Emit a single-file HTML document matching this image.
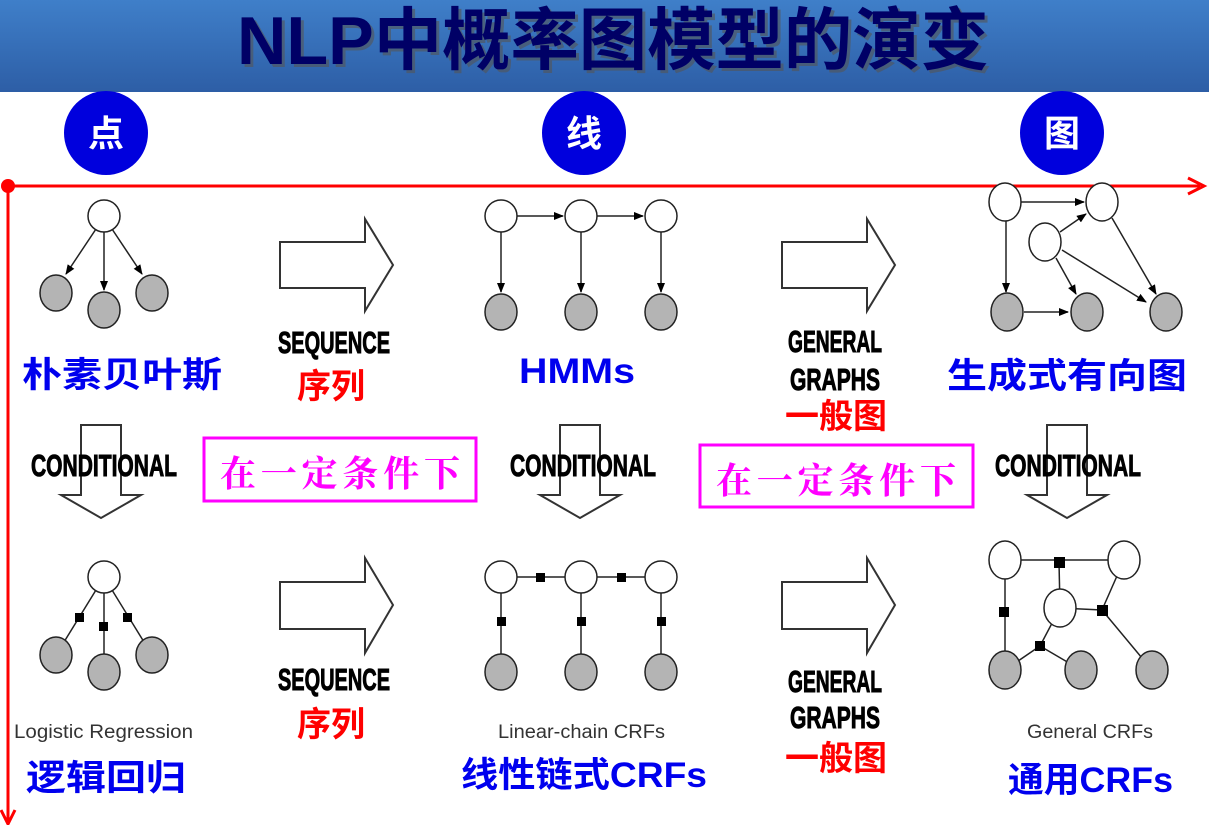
<!DOCTYPE html>
<html><head><meta charset="utf-8"><style>
html,body{margin:0;padding:0;background:#fff;}
svg{display:block;}
.cn{font-family:"Liberation Sans","Noto Sans CJK SC",sans-serif;font-weight:bold;}
.cd{font-family:"Liberation Sans Narrow","Liberation Sans",sans-serif;font-weight:bold;fill:#000;stroke:#000;stroke-width:1;}
.lb{font-family:"Liberation Sans","DejaVu Sans",sans-serif;fill:#333;}
</style></head><body>
<svg width="1209" height="825" viewBox="0 0 1209 825" xmlns="http://www.w3.org/2000/svg">
<defs>
<linearGradient id="hg" x1="0" y1="0" x2="0" y2="1"><stop offset="0" stop-color="#3f7fc9"/><stop offset="1" stop-color="#2d5ea6"/></linearGradient>
<marker id="ah" markerWidth="10" markerHeight="10" refX="9" refY="5" orient="auto" markerUnits="userSpaceOnUse"><path d="M0,1 L10,5 L0,9 z" fill="#000"/></marker>
</defs>
<rect x="0" y="0" width="1209" height="92" fill="url(#hg)"/>
<text x="240" y="67" textLength="752" lengthAdjust="spacingAndGlyphs" class="cn" font-size="68" fill="#555" opacity="0.6">NLP中概率图模型的演变</text>
<text x="237" y="64" textLength="752" lengthAdjust="spacingAndGlyphs" class="cn" font-size="68" fill="#000066">NLP中概率图模型的演变</text>

<ellipse cx="106" cy="133" rx="42" ry="42" fill="#0000dd"/>
<ellipse cx="584" cy="133" rx="42" ry="42" fill="#0000dd"/>
<ellipse cx="1062" cy="133" rx="42" ry="42" fill="#0000dd"/>
<text x="106" y="146" text-anchor="middle" class="cn" font-size="36" fill="#fff">点</text>
<text x="584" y="146" text-anchor="middle" class="cn" font-size="36" fill="#fff">线</text>
<text x="1062" y="146" text-anchor="middle" class="cn" font-size="36" fill="#fff">图</text>

<line x1="8" y1="186" x2="1200" y2="186" stroke="#f00" stroke-width="3"/>
<path d="M1188,178 L1204,186 L1188,194" fill="none" stroke="#f00" stroke-width="3"/>
<line x1="8" y1="186" x2="8" y2="822" stroke="#f00" stroke-width="3"/>
<path d="M1,810 L8,824 L15,810" fill="none" stroke="#f00" stroke-width="3"/>
<circle cx="8" cy="186" r="7" fill="#f00"/>

<g stroke="#222" stroke-width="1.5">
<line x1="96" y1="229" x2="66" y2="274" marker-end="url(#ah)"/>
<line x1="104" y1="232" x2="104" y2="290" marker-end="url(#ah)"/>
<line x1="112" y1="229" x2="142" y2="274" marker-end="url(#ah)"/>
<circle cx="104" cy="216" r="16" fill="#fff"/>
<ellipse cx="56" cy="293" rx="16" ry="18" fill="#b4b4b4"/>
<ellipse cx="104" cy="310" rx="16" ry="18" fill="#b4b4b4"/>
<ellipse cx="152" cy="293" rx="16" ry="18" fill="#b4b4b4"/>
<line x1="517" y1="216" x2="563" y2="216" marker-end="url(#ah)"/>
<line x1="597" y1="216" x2="643" y2="216" marker-end="url(#ah)"/>
<line x1="501" y1="232" x2="501" y2="292" marker-end="url(#ah)"/>
<line x1="581" y1="232" x2="581" y2="292" marker-end="url(#ah)"/>
<line x1="661" y1="232" x2="661" y2="292" marker-end="url(#ah)"/>
<circle cx="501" cy="216" r="16" fill="#fff"/><circle cx="581" cy="216" r="16" fill="#fff"/><circle cx="661" cy="216" r="16" fill="#fff"/>
<ellipse cx="501" cy="312" rx="16" ry="18" fill="#b4b4b4"/><ellipse cx="581" cy="312" rx="16" ry="18" fill="#b4b4b4"/><ellipse cx="661" cy="312" rx="16" ry="18" fill="#b4b4b4"/>
<line x1="1021" y1="202" x2="1084" y2="202" marker-end="url(#ah)"/>
<line x1="1006" y1="220" x2="1006" y2="292" marker-end="url(#ah)"/>
<line x1="1060" y1="232" x2="1086" y2="214" marker-end="url(#ah)"/>
<line x1="1056" y1="258" x2="1076" y2="294" marker-end="url(#ah)"/>
<line x1="1062" y1="250" x2="1146" y2="302" marker-end="url(#ah)"/>
<line x1="1112" y1="218" x2="1156" y2="294" marker-end="url(#ah)"/>
<line x1="1024" y1="312" x2="1068" y2="312" marker-end="url(#ah)"/>
<ellipse cx="1005" cy="202" rx="16" ry="19" fill="#fff"/>
<ellipse cx="1102" cy="202" rx="16" ry="19" fill="#fff"/>
<ellipse cx="1045" cy="242" rx="16" ry="19" fill="#fff"/>
<ellipse cx="1007" cy="312" rx="16" ry="19" fill="#b4b4b4"/>
<ellipse cx="1087" cy="312" rx="16" ry="19" fill="#b4b4b4"/>
<ellipse cx="1166" cy="312" rx="16" ry="19" fill="#b4b4b4"/>

<line x1="104" y1="577" x2="56" y2="655"/><line x1="104" y1="577" x2="104" y2="672"/><line x1="104" y1="577" x2="152" y2="655"/>
<circle cx="104" cy="577" r="16" fill="#fff"/>
<ellipse cx="56" cy="655" rx="16" ry="18" fill="#b4b4b4"/>
<ellipse cx="104" cy="672" rx="16" ry="18" fill="#b4b4b4"/>
<ellipse cx="152" cy="655" rx="16" ry="18" fill="#b4b4b4"/>
<line x1="501" y1="577" x2="661" y2="577"/>
<line x1="501" y1="577" x2="501" y2="672"/><line x1="581" y1="577" x2="581" y2="672"/><line x1="661" y1="577" x2="661" y2="672"/>
<circle cx="501" cy="577" r="16" fill="#fff"/><circle cx="581" cy="577" r="16" fill="#fff"/><circle cx="661" cy="577" r="16" fill="#fff"/>
<ellipse cx="501" cy="672" rx="16" ry="18" fill="#b4b4b4"/><ellipse cx="581" cy="672" rx="16" ry="18" fill="#b4b4b4"/><ellipse cx="661" cy="672" rx="16" ry="18" fill="#b4b4b4"/>
<line x1="1005" y1="560" x2="1124" y2="560"/>
<line x1="1005" y1="560" x2="1005" y2="670"/>
<line x1="1059" y1="562" x2="1060" y2="608"/>
<line x1="1060" y1="608" x2="1102" y2="610"/>
<line x1="1124" y1="560" x2="1102" y2="610"/>
<line x1="1102" y1="610" x2="1152" y2="670"/>
<line x1="1060" y1="608" x2="1040" y2="646"/>
<line x1="1005" y1="670" x2="1040" y2="646"/>
<line x1="1040" y1="646" x2="1081" y2="670"/>
<ellipse cx="1005" cy="560" rx="16" ry="19" fill="#fff"/>
<ellipse cx="1124" cy="560" rx="16" ry="19" fill="#fff"/>
<ellipse cx="1060" cy="608" rx="16" ry="19" fill="#fff"/>
<ellipse cx="1005" cy="670" rx="16" ry="19" fill="#b4b4b4"/>
<ellipse cx="1081" cy="670" rx="16" ry="19" fill="#b4b4b4"/>
<ellipse cx="1152" cy="670" rx="16" ry="19" fill="#b4b4b4"/>
</g>
<g fill="#000">
<rect x="75" y="613" width="9" height="9"/><rect x="99" y="622" width="9" height="9"/><rect x="123" y="613" width="9" height="9"/>
<rect x="536" y="573" width="9" height="9"/><rect x="617" y="573" width="9" height="9"/>
<rect x="497" y="617" width="9" height="9"/><rect x="577" y="617" width="9" height="9"/><rect x="657" y="617" width="9" height="9"/>
<rect x="1054" y="557" width="11" height="11"/><rect x="999" y="607" width="10" height="10"/><rect x="1097" y="605" width="11" height="11"/><rect x="1035" y="641" width="10" height="10"/>
</g>

<g fill="#fff" stroke="#333" stroke-width="2">
<path d="M280,242 L365,242 L365,219 L393,265 L365,311 L365,288 L280,288 Z"/>
<path d="M782,242 L867,242 L867,219 L895,265 L867,311 L867,288 L782,288 Z"/>
<path d="M280,582 L365,582 L365,558 L393,605 L365,653 L365,629 L280,629 Z"/>
<path d="M782,582 L867,582 L867,558 L895,605 L867,653 L867,629 L782,629 Z"/>
<path d="M81,425 L121,425 L121,495 L141,495 L101,518 L61,495 L81,495 Z"/>
<path d="M560,425 L600,425 L600,495 L620,495 L580,518 L540,495 L560,495 Z"/>
<path d="M1047,425 L1087,425 L1087,495 L1107,495 L1067,518 L1027,495 L1047,495 Z"/>
</g>

<g class="cd" font-size="31">
<text x="278" y="353" textLength="112" lengthAdjust="spacingAndGlyphs">SEQUENCE</text>
<text x="278" y="690" textLength="112" lengthAdjust="spacingAndGlyphs">SEQUENCE</text>
<text x="788" y="352" textLength="94" lengthAdjust="spacingAndGlyphs">GENERAL</text>
<text x="790" y="390" textLength="90" lengthAdjust="spacingAndGlyphs">GRAPHS</text>
<text x="788" y="692" textLength="94" lengthAdjust="spacingAndGlyphs">GENERAL</text>
<text x="790" y="728" textLength="90" lengthAdjust="spacingAndGlyphs">GRAPHS</text>
<text x="31" y="476" textLength="146" lengthAdjust="spacingAndGlyphs">CONDITIONAL</text>
<text x="510" y="476" textLength="146" lengthAdjust="spacingAndGlyphs">CONDITIONAL</text>
<text x="995" y="476" textLength="146" lengthAdjust="spacingAndGlyphs">CONDITIONAL</text>
</g>

<g class="cn" font-size="34" fill="#f00" text-anchor="middle">
<text x="331" y="398">序列</text>
<text x="331" y="736">序列</text>
<text x="836" y="428">一般图</text>
<text x="836" y="770">一般图</text>
</g>
<g class="cn" font-size="35" fill="#0000ee">
<text x="22" y="387" textLength="200" lengthAdjust="spacingAndGlyphs">朴素贝叶斯</text>
<text x="519" y="383" textLength="116" lengthAdjust="spacingAndGlyphs">HMMs</text>
<text x="947" y="388" textLength="240" lengthAdjust="spacingAndGlyphs">生成式有向图</text>
<text x="26" y="790" textLength="160" lengthAdjust="spacingAndGlyphs">逻辑回归</text>
<text x="461" y="787" textLength="246" lengthAdjust="spacingAndGlyphs">线性链式CRFs</text>
<text x="1008" y="792" textLength="165" lengthAdjust="spacingAndGlyphs">通用CRFs</text>
</g>
<g class="lb" font-size="19">
<text x="14" y="738" textLength="179" lengthAdjust="spacingAndGlyphs">Logistic Regression</text>
<text x="498" y="738" textLength="167" lengthAdjust="spacingAndGlyphs">Linear-chain CRFs</text>
<text x="1027" y="738" textLength="126" lengthAdjust="spacingAndGlyphs">General CRFs</text>
</g>

<rect x="204" y="438" width="272" height="63" fill="none" stroke="#f0f" stroke-width="3"/>
<rect x="700" y="445" width="273" height="62" fill="none" stroke="#f0f" stroke-width="3"/>
<g font-family="'Noto Serif CJK SC','Liberation Serif',serif" font-size="36" font-weight="bold" fill="#f0f">
<text x="220" y="486" textLength="240" lengthAdjust="spacing">在一定条件下</text>
<text x="716" y="493" textLength="240" lengthAdjust="spacing">在一定条件下</text>
</g>
</svg>
</body></html>
